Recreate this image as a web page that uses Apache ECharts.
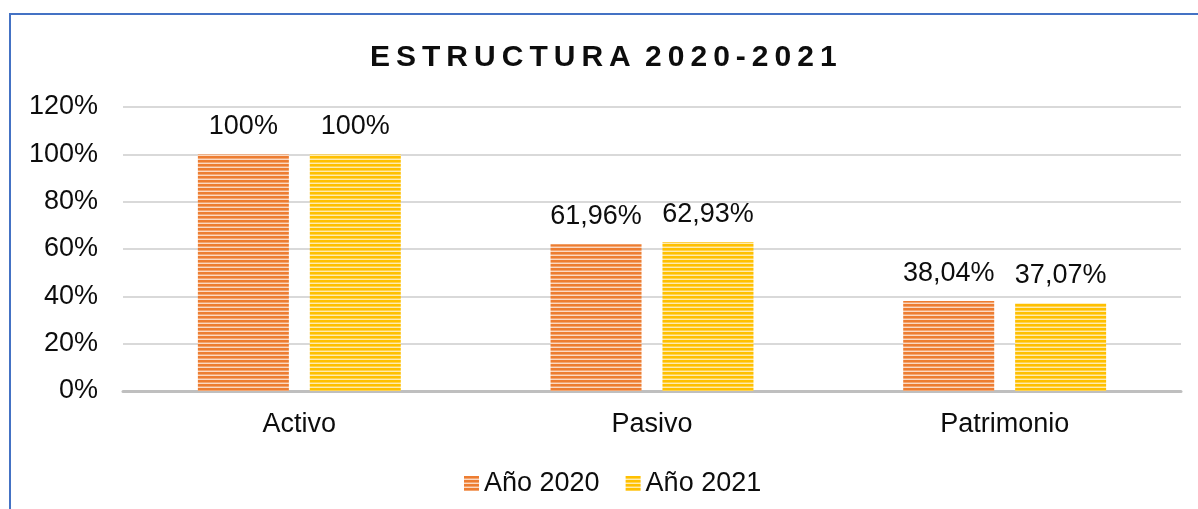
<!DOCTYPE html>
<html>
<head>
<meta charset="utf-8">
<script src="https://cdn.jsdelivr.net/npm/echarts@6/dist/echarts.min.js"></script>
<style>
  html, body { margin: 0; padding: 0; background: #fff; }
  #chart { width: 1198px; height: 509px; }
</style>
</head>
<body>
<div id="chart"></div>
<script>
// data
var categories = ['Activo', 'Pasivo', 'Patrimonio'];
var serie2020 = [100, 61.96, 38.04];
var serie2021 = [100, 62.93, 37.07];
var seriesNames = ['Año 2020', 'Año 2021'];

// striped fill, like the excel pattern
function stripes(dark, mid, light) {
  var c = document.createElement('canvas');
  c.width = 4;
  c.height = 4;
  var ctx = c.getContext('2d');
  ctx.fillStyle = dark;
  ctx.fillRect(0, 0, 4, 2);
  ctx.fillStyle = mid;
  ctx.fillRect(0, 2, 4, 1);
  ctx.fillStyle = light;
  ctx.fillRect(0, 3, 4, 1);
  return { image: c, repeat: 'repeat' };
}

var orange = stripes('#ED7D31', '#F3A570', '#FBD9C2');
var yellow = stripes('#FFC000', '#FFD24D', '#FFEBAE');

function fmt(p) {
  return String(p.value).replace('.', ',') + '%';
}

var chart = echarts.init(document.getElementById('chart'));
chart.setOption({
  animation: false,
  textStyle: { fontFamily: 'Liberation Sans, Arial, sans-serif' },
  title: {
    text: 'E\u2009S\u2009T\u2009R\u2009U\u2009C\u2009T\u2009U\u2009R\u2009A \u20092\u20090\u20092\u20090\u2009-\u20092\u20090\u20092\u20091',
    left: 365,
    top: 38,
    textStyle: { fontSize: 30, fontWeight: 'bold', color: '#0d0d0d' }
  },
  graphic: [{
    type: 'rect',
    shape: { x: 10, y: 14, width: 1400, height: 800 },
    style: { fill: 'none', stroke: '#4472C4', lineWidth: 2 },
    silent: true
  }],
  legend: {
    data: seriesNames,
    left: 459,
    top: 465,
    itemWidth: 15,
    itemHeight: 15,
    itemGap: 26,
    icon: 'rect',
    textStyle: { fontSize: 27, color: '#0d0d0d' }
  },
  grid: { left: 123, right: 17, top: 107, bottom: 118 },
  xAxis: {
    type: 'category',
    data: categories,
    axisTick: { show: false },
    axisLine: { lineStyle: { color: '#bfbfbf', width: 3 } },
    axisLabel: { fontSize: 27, color: '#0d0d0d', margin: 20 }
  },
  yAxis: {
    type: 'value',
    min: 0,
    max: 120,
    interval: 20,
    axisLabel: { fontSize: 27, color: '#0d0d0d', margin: 25, formatter: '{value}%' },
    splitLine: { lineStyle: { color: '#d9d9d9', width: 2 } },
    axisLine: { show: false },
    axisTick: { show: false }
  },
  series: [{
    name: seriesNames[0],
    type: 'bar',
    data: serie2020,
    barWidth: 91,
    barGap: '23%',
    itemStyle: { color: orange },
    label: { show: true, position: 'top', distance: 14, fontSize: 27, color: '#0d0d0d', formatter: fmt }
  }, {
    name: seriesNames[1],
    type: 'bar',
    data: serie2021,
    barWidth: 91,
    itemStyle: { color: yellow },
    label: { show: true, position: 'top', distance: 14, fontSize: 27, color: '#0d0d0d', formatter: fmt }
  }]
});
</script>
</body>
</html>
